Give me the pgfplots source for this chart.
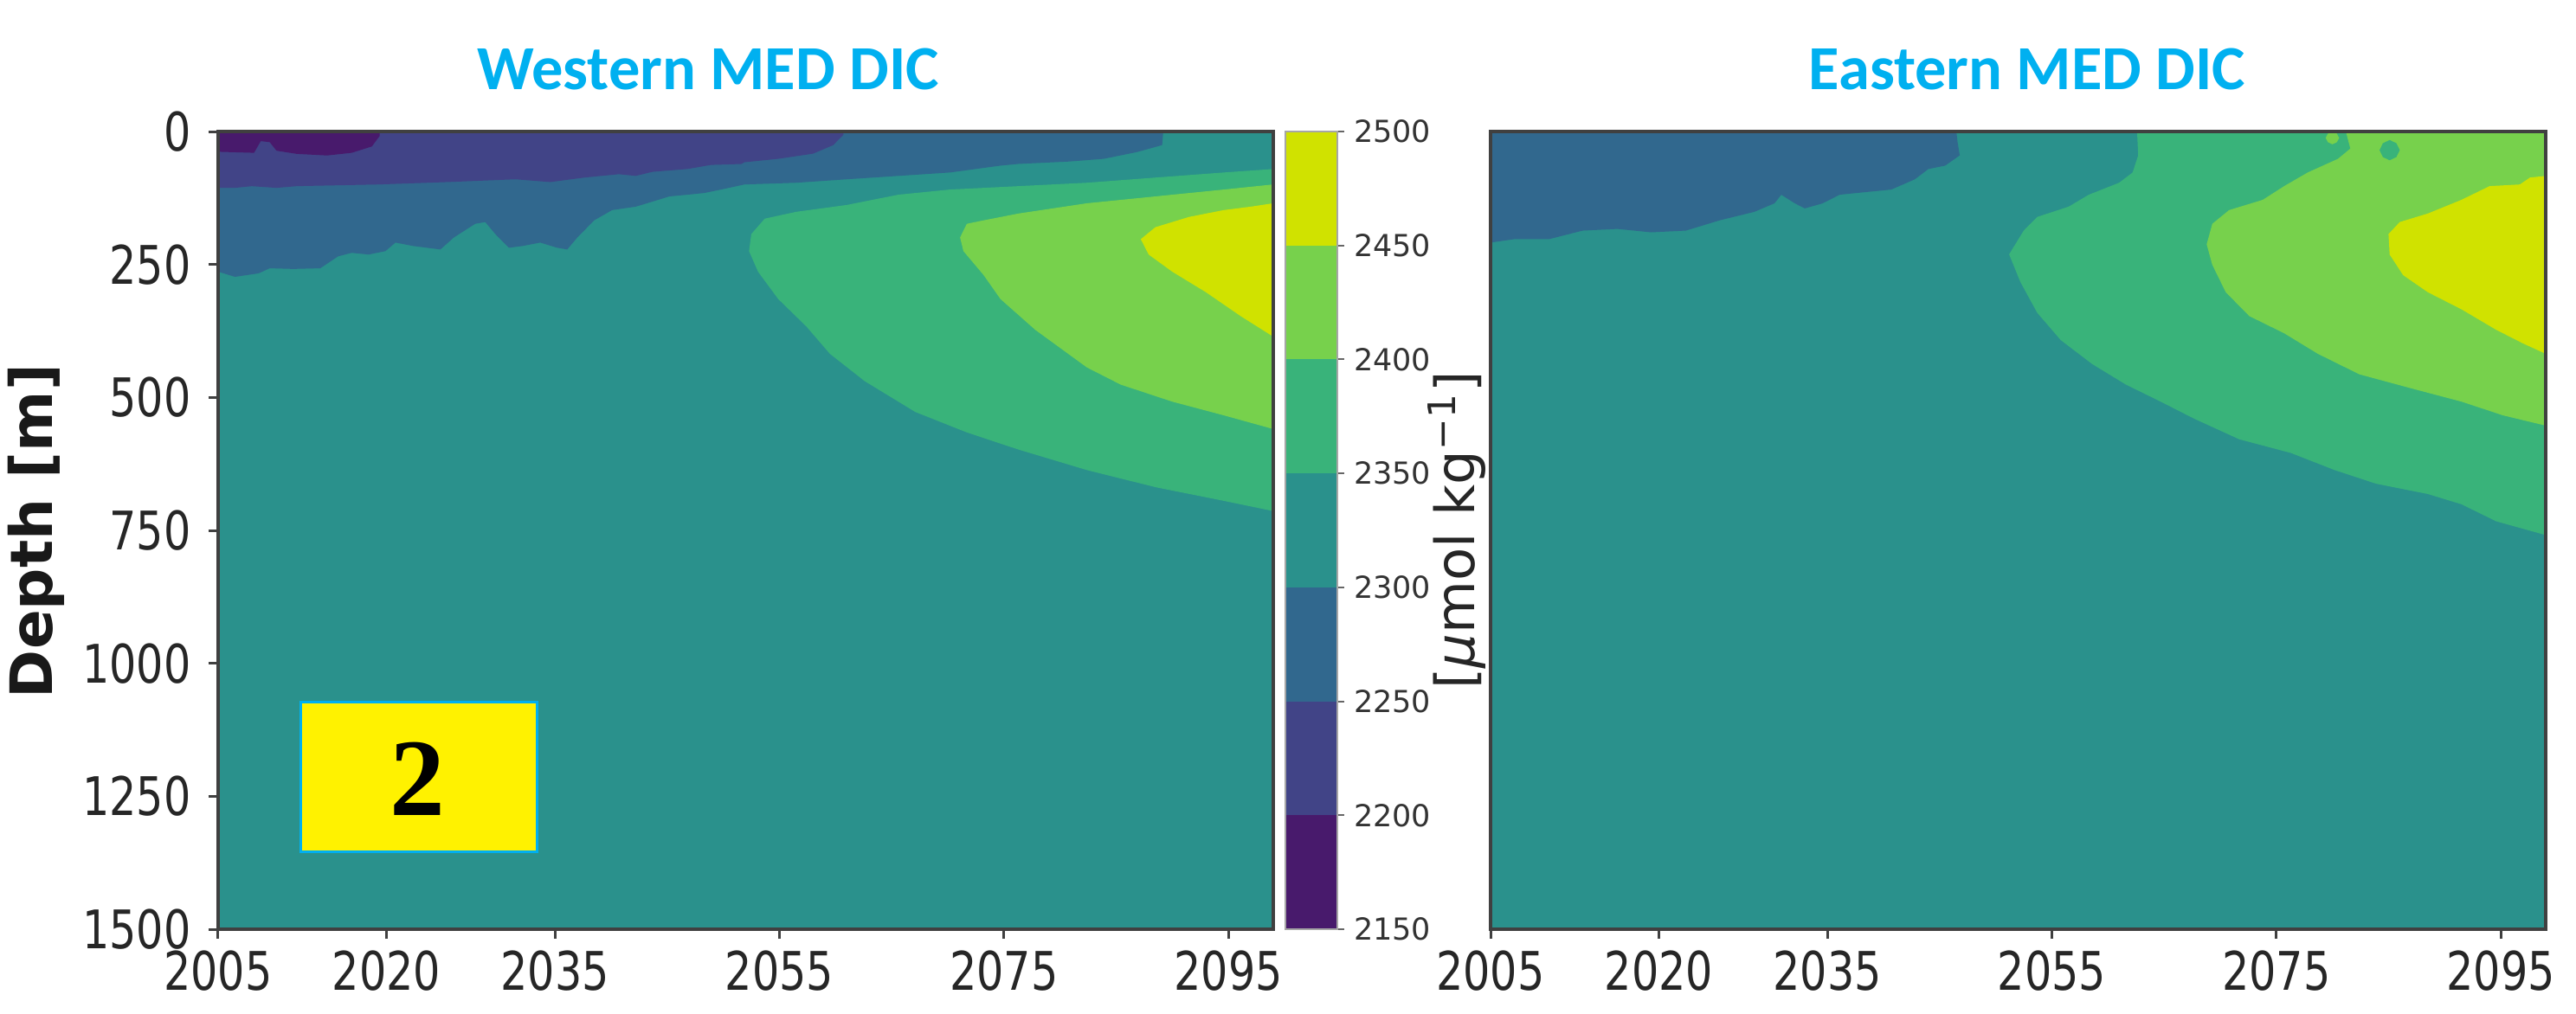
\documentclass[border=0pt]{standalone}
\usepackage{pgfplots}
\pgfplotsset{compat=1.18}
\usepackage{fontspec}
\setmainfont{DejaVu Sans}
\newfontfamily\tickfont[FakeStretch=0.8]{DejaVu Sans}
\newfontfamily\cbfont{DejaVu Sans}
\newfontfamily\titlefont{Carlito}
\newfontfamily\numfont{Liberation Serif}

% contour level colours (viridis, 2150 ... 2500 in steps of 50)
\definecolor{lvA}{HTML}{481A6C}
\definecolor{lvB}{HTML}{414487}
\definecolor{lvC}{HTML}{31688E}
\definecolor{lvD}{HTML}{2A918C}
\definecolor{lvE}{HTML}{39B37A}
\definecolor{lvF}{HTML}{77D14C}
\definecolor{lvG}{HTML}{D0E200}
\definecolor{ttl}{HTML}{00B0F0}

\pgfplotsset{
  panel/.style={
    scale only axis, width=243.8pt, height=184.4pt,
    xmin=2005, xmax=2099, ymin=0, ymax=1500, y dir=reverse,
    axis background/.style={fill=lvD},
    axis on top,
    axis line style={black!75, line width=0.9pt},
    tick align=outside, major tick length=2.2pt,
    tick style={black!75, line width=0.6pt},
    xtick pos=left, ytick pos=left,
    xtick={2005,2020,2035,2055,2075,2095},
    ytick={0,250,...,1500},
    /pgf/number format/assume math mode=true,
    /pgf/number format/1000 sep={},
    tick label style={font=\tickfont\fontsize{12.3}{14}\selectfont, text=black!85, inner sep=0pt},
    xticklabel style={yshift=-2.5pt},
    yticklabel style={xshift=-3.9pt},
  },
  region/.style={draw=none, fill=#1, forget plot},
}

\begin{document}
\begin{tikzpicture}
\useasboundingbox (0,0) rectangle (595.2pt,234.2pt);

% ---------------- Western Mediterranean ----------------
\begin{axis}[panel, at={(50.4pt,19.4pt)}, anchor=south west]
% 2250-2300
\addplot[region=lvC] coordinates {(2005,0) (2089.2,0) (2089.1,25.5) (2086.9,38.4) (2083.9,51.3) (2080.8,56.4) (2076.3,60.9) (2074.7,64.1) (2070.2,77) (2065.6,83.4) (2061.0,89.8) (2056.5,96.3) (2051.9,99.5) (2049.8,109.1) (2048.3,115.6) (2046.8,118.8) (2045.2,122.0) (2043.7,131.7) (2042.2,141.3) (2040.1,147.7) (2038.5,167.0) (2037.0,199.2) (2036.1,221.7) (2035.2,218.5) (2033.7,208.8) (2032.1,215.3) (2030.9,218.5) (2029.7,192.8) (2028.8,170.2) (2027.9,173.5) (2026.0,199.2) (2024.8,221.7) (2022.4,215.3) (2020.8,208.8) (2019.9,224.9) (2018.4,231.3) (2016.9,228.1) (2015.7,234.6) (2014.1,257.1) (2011.7,258.4) (2009.6,257.1) (2008.6,266.7) (2006.5,273.2) (2005,263.5)} --cycle;
% 2200-2250
\addplot[region=lvB] coordinates {(2005,0) (2060.7,0) (2060.7,6) (2059.8,25.5) (2058.0,41.6) (2054.9,51.3) (2051.9,57.7) (2051.6,61) (2048.9,62.8) (2046.8,70.5) (2043.7,75.7) (2042.2,83.4) (2040.7,80.2) (2037.6,86.6) (2034.6,95) (2031.5,89.8) (2025.4,95) (2019.3,99.5) (2012.0,102.7) (2010.2,105.9) (2008.0,102.7) (2006.5,105.9) (2005,105.9)} --cycle;
% 2150-2200
\addplot[region=lvA] coordinates {(2005,0) (2019.4,0) (2019.4,8) (2018.7,28) (2016.9,40) (2014.7,45) (2012.0,42) (2010.2,36) (2009.6,20) (2008.8,18) (2008.2,40) (2005,38)} --cycle;
% 2350-2400
\addplot[region=lvE] coordinates {(2099,70.5) (2094.6,77) (2088.5,86.6) (2082.4,96.3) (2076.3,102.7) (2070.2,109.1) (2065.6,118.8) (2061.0,138.1) (2056.5,151) (2053.7,163.8) (2052.5,192.8) (2052.3,224.9) (2053.1,263.5) (2054.9,315) (2057.4,366.4) (2059.5,417.9) (2062.6,469.3) (2067.1,527.2) (2071.7,565.8) (2076.3,598) (2082.4,636.6) (2088.5,668.7) (2094.6,694.5) (2099,713.7)} --cycle;
% 2400-2450
\addplot[region=lvF] coordinates {(2099,99.5) (2094.6,109.1) (2088.5,122) (2082.4,134.9) (2076.3,154.2) (2073.2,167) (2071.7,173.5) (2071.1,199.2) (2071.4,224.9) (2073.2,270) (2074.7,315) (2077.8,372.9) (2082.4,443.6) (2085.4,475.8) (2090.0,507.9) (2094.6,533.7) (2099,559.4)} --cycle;
% 2450-2500
\addplot[region=lvG] coordinates {(2099,134.9) (2097.0,141.3) (2094.6,147.7) (2091.5,160.6) (2088.5,179.9) (2087.2,202.4) (2087.9,231.3) (2090.0,263.5) (2093.0,302.1) (2096.1,347.1) (2099,385.7)} --cycle;
\end{axis}

% ---------------- colour bar ----------------
\begin{axis}[at={(297pt,19.4pt)}, anchor=south west,
  scale only axis, width=12pt, height=184.4pt,
  xmin=0, xmax=1, ymin=2150, ymax=2500,
  xtick=\empty, ytick={2150,2200,...,2500},
  ytick pos=right, yticklabel pos=right,
  tick align=outside, major tick length=1.5pt,
  tick style={black!60, line width=0.4pt},
  axis line style={black!35, line width=0.4pt},
  axis on top,
  /pgf/number format/assume math mode=true,
  /pgf/number format/1000 sep={},
  yticklabel style={font=\cbfont\fontsize{7}{8}\selectfont, text=black!80, inner sep=0pt, xshift=2.1pt},
]
\addplot[region=lvA] coordinates {(0,2150) (1,2150) (1,2200) (0,2200)} --cycle;
\addplot[region=lvB] coordinates {(0,2200) (1,2200) (1,2250) (0,2250)} --cycle;
\addplot[region=lvC] coordinates {(0,2250) (1,2250) (1,2300) (0,2300)} --cycle;
\addplot[region=lvD] coordinates {(0,2300) (1,2300) (1,2350) (0,2350)} --cycle;
\addplot[region=lvE] coordinates {(0,2350) (1,2350) (1,2400) (0,2400)} --cycle;
\addplot[region=lvF] coordinates {(0,2400) (1,2400) (1,2450) (0,2450)} --cycle;
\addplot[region=lvG] coordinates {(0,2450) (1,2450) (1,2500) (0,2500)} --cycle;
\end{axis}

% ---------------- Eastern Mediterranean ----------------
\begin{axis}[panel, at={(344.4pt,19.4pt)}, anchor=south west, ytick=\empty]
% 2250-2300
\addplot[region=lvC] coordinates {(2005,0) (2046.5,0) (2046.6,19.1) (2046.8,44.8) (2045.5,64.1) (2044.0,70.5) (2042.8,89.8) (2040.7,109.1) (2037.6,115.6) (2036.1,118.8) (2034.6,134.9) (2033.0,144.5) (2032.1,134.9) (2030.9,118.8) (2030.3,134.9) (2028.5,151) (2025.4,167) (2022.4,186.3) (2019.3,189.5) (2016.3,183.1) (2013.2,186.3) (2010.2,202.4) (2007.1,202.4) (2005,208.8)} --cycle;
% 2350-2400
\addplot[region=lvE] coordinates {(2062.6,0) (2062.7,44.8) (2062.2,77) (2061.0,96.3) (2058.3,118.8) (2056.5,141.3) (2053.7,160.6) (2052.5,186.3) (2051.2,231) (2052.2,282.8) (2053.7,340.7) (2055.8,392.2) (2058.6,437.2) (2061.6,475.8) (2064.7,507.9) (2067.7,540.1) (2071.7,578.7) (2076.3,604.4) (2080.2,636.6) (2083.9,662.3) (2088.5,681.6) (2091.5,700.9) (2094.6,733) (2099,758.8) (2099,0)} --cycle;
% 2400-2450
\addplot[region=lvF] coordinates {(2081.2,0) (2081.6,32) (2080.5,51.3) (2077.8,77) (2075.7,102.7) (2073.8,128.4) (2070.8,147.7) (2069.3,173.5) (2068.8,212.1) (2069.3,250.6) (2070.5,302.1) (2072.6,347.1) (2075.7,379.3) (2078.7,417.9) (2082.4,456.5) (2086.9,482.2) (2091.5,507.9) (2095.2,533.7) (2099,553) (2099,0)} --cycle;
\addplot[region=lvF] coordinates {(2080.6,12) (2080.4,20) (2080.0,24) (2079.6,20) (2079.4,12) (2079.6,4) (2080.0,0) (2080.4,4)} --cycle;
\addplot[region=lvE] coordinates {(2086.0,35) (2085.7,48) (2085.1,54) (2084.5,48) (2084.2,35) (2084.5,22) (2085.1,16) (2085.7,22)} --cycle;
% 2450-2500
\addplot[region=lvG] coordinates {(2099,83.4) (2097.6,86.6) (2096.7,99.5) (2094.0,102.7) (2091.5,128.4) (2088.5,154.2) (2086.0,170.2) (2085.0,192.8) (2085.1,231.3) (2086.3,270) (2088.5,302.1) (2091.5,334.3) (2094.6,372.9) (2097.0,398.6) (2099,417.9)} --cycle;
\end{axis}

% titles and labels
\node[anchor=base, text=ttl, font=\titlefont\bfseries\fontsize{14.5}{17}\selectfont] at (163.6pt,213.6pt) {Western MED DIC};
\node[anchor=base, text=ttl, font=\titlefont\bfseries\fontsize{14.5}{17}\selectfont] at (468.4pt,213.6pt) {Eastern MED DIC};
\node[rotate=90, font=\bfseries\fontsize{13.5}{16}\selectfont, text=black!90] at (8.4pt,111.4pt) {Depth [m]};
\node[rotate=90, font=\cbfont\fontsize{12.5}{15}\selectfont, text=black!85] at (336.6pt,111.6pt) {[{\itshape μ}mol kg\textsuperscript{−1}]};

% panel number
\node[draw=ttl, line width=0.6pt, fill=yellow, minimum width=54.6pt, minimum height=34.6pt, inner sep=0pt] at (96.7pt,54.7pt) {};
\node[inner sep=0pt, font=\numfont\bfseries\fontsize{25.5}{28}\selectfont] at (96.4pt,54.2pt) {2};
\end{tikzpicture}
\end{document}
